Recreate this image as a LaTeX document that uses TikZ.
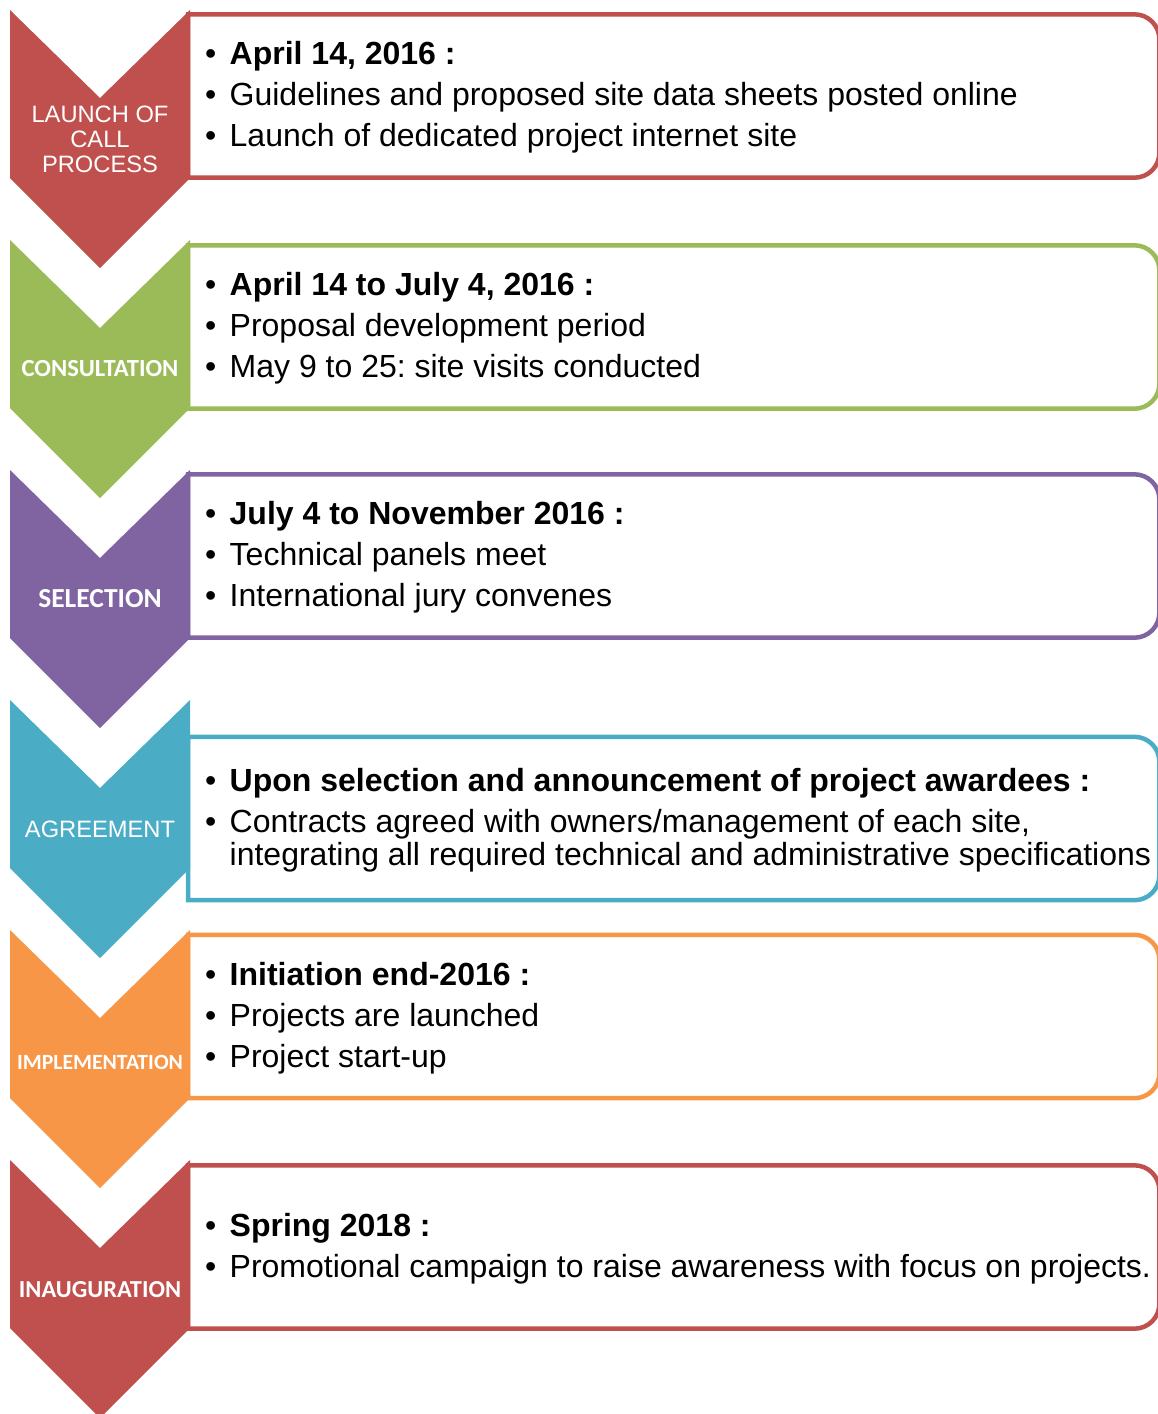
\documentclass[tikz,border=0pt]{standalone}
\usepackage{fontspec}
\setmainfont{Liberation Sans}
\newfontfamily\calibri{Carlito}
\usepackage{tikz}
\definecolor{launchred}{HTML}{C0504D}
\definecolor{consultgreen}{HTML}{9BBB59}
\definecolor{selectpurple}{HTML}{8064A2}
\definecolor{agreeblue}{HTML}{4BACC6}
\definecolor{implorange}{HTML}{F79646}
\frenchspacing

\newcommand{\bul}{\makebox[24.5pt][l]{•}}
\newcommand{\drawpanel}[2]{%
  \draw[boxline, draw=#2] (#1.north west) -- ([xshift=-25pt]#1.north east)
    arc[start angle=90, end angle=0, radius=25pt] -- ([yshift=25pt]#1.south east)
    arc[start angle=0, end angle=-90, radius=25pt] -- (#1.south west) -- cycle;}

\tikzset{
  chevron/.pic={\fill[pic actions] (0,0) -- (90,88) -- (180,0) -- (180,168) -- (90,258) -- (0,168) -- cycle;},
  stage/.style={text=white, align=center, inner sep=0pt, font=\fontsize{23.7}{25}\selectfont},
  stagebold/.style={stage, font=\calibri\bfseries\fontsize{#1}{25}\selectfont},
  panel/.style={minimum width=971pt, minimum height=163pt, anchor=west, inner sep=0pt},
  boxline/.style={line width=4.5pt, fill=white},
  info/.style={anchor=west, align=left, inner sep=0pt, font=\fontsize{32}{33}\selectfont},
}

\begin{document}
\begin{tikzpicture}[x=1pt, y=-1pt]
	\useasboundingbox (0,0) rectangle (1157,1414);
	
	% panels behind the chevrons
	\node[panel] (panel1) at (188,96) {};
	\node[panel] (panel2) at (188,327) {};
	\node[panel] (panel3) at (188,556) {};
	\node[panel] (panel4) at (188,818.5) {};
	\node[panel] (panel5) at (188,1016.5) {};
	\node[panel] (panel6) at (188,1247) {};
	\drawpanel{panel1}{launchred}
	\drawpanel{panel2}{consultgreen}
	\drawpanel{panel3}{selectpurple}
	\drawpanel{panel4}{agreeblue}
	\drawpanel{panel5}{implorange}
	\drawpanel{panel6}{launchred}
	
	\pic[fill=launchred] at (10,10) {chevron};
	\pic[fill=consultgreen] at (10,240) {chevron};
	\pic[fill=selectpurple] at (10,470) {chevron};
	\pic[fill=agreeblue] at (10,700) {chevron};
	\pic[fill=implorange] at (10,930) {chevron};
	\pic[fill=launchred] at (10,1160) {chevron};
	
	\node[stage] (stage1) at (100,139) {LAUNCH OF\\CALL\\PROCESS};
	\node[stagebold=24.6] (stage2) at (100,369) {CONSULTATION};
	\node[stagebold=27.5] (stage3) at (100,599) {SELECTION};
	\node[stage] (stage4) at (100,829) {AGREEMENT};
	\node[stagebold=21.7] (stage5) at (100,1062) {IMPLEMENTATION};
	\node[stagebold=24.4] (stage6) at (100,1290) {INAUGURATION};
	
	\node[info] (note1) at ([xshift=17pt,yshift=-1.5pt]panel1.west) {\bul\textbf{April 14, 2016 :}\\[8pt]\bul Guidelines and proposed site data sheets posted online\\[8pt]\bul Launch of dedicated project internet site};
	\node[info] (note2) at ([xshift=17pt,yshift=-1.5pt]panel2.west) {\bul\textbf{April 14 to July 4, 2016 :}\\[8pt]\bul Proposal development period\\[8pt]\bul May 9 to 25: site visits conducted};
	\node[info] (note3) at ([xshift=17pt,yshift=-1.5pt]panel3.west) {\bul\textbf{July 4 to November 2016 :}\\[8pt]\bul Technical panels meet\\[8pt]\bul International jury convenes};
	\node[info] (note4) at ([xshift=17pt,yshift=-1.5pt]panel4.west) {\bul\textbf{Upon selection and announcement of project awardees :}\\[8pt]\bul Contracts agreed with owners/management of each site,\\\hspace*{24.5pt}integrating all required technical and administrative specifications};
	\node[info] (note5) at ([xshift=17pt,yshift=-1.5pt]panel5.west) {\bul\textbf{Initiation end-2016 :}\\[8pt]\bul Projects are launched\\[8pt]\bul Project start-up};
	\node[info] (note6) at ([xshift=17pt,yshift=-1.5pt]panel6.west) {\bul\textbf{Spring 2018 :}\\[8pt]\bul Promotional campaign to raise awareness with focus on projects.};
\end{tikzpicture}
\end{document}
